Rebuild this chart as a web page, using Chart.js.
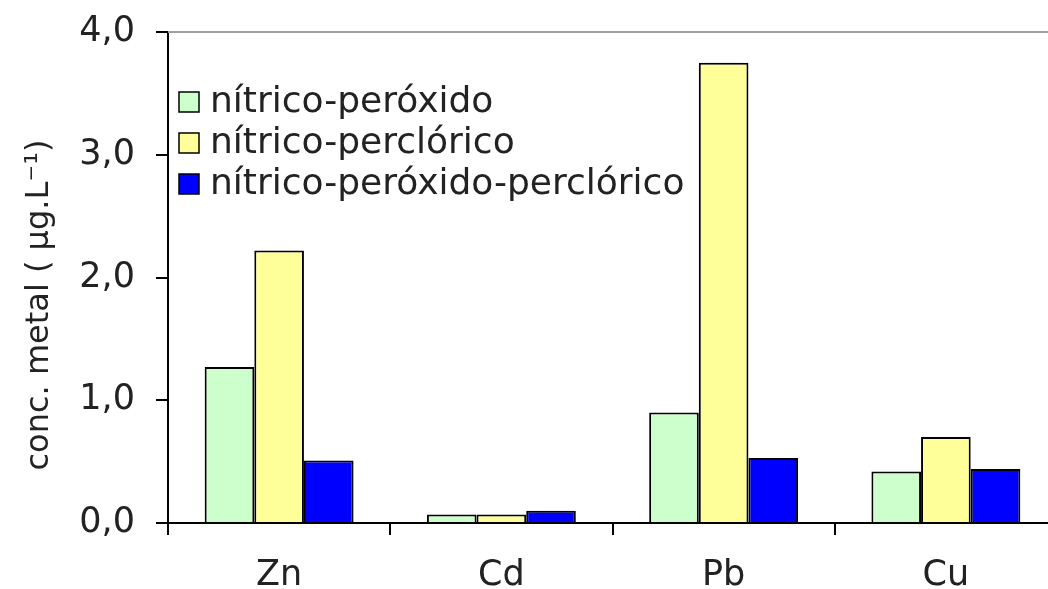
<!DOCTYPE html>
<html>
<head>
<meta charset="utf-8">
<script src="https://cdn.jsdelivr.net/npm/chart.js@4"></script>
<style>
    html, body { margin: 0; padding: 0; background: #fff; overflow: hidden; }
    #wrap { width: 1048px; height: 589px; overflow: hidden; }
    canvas { display: block; }
</style>
</head>
<body>
<div id="wrap">
    <canvas id="metalChart" width="1057" height="589"></canvas>
</div>
<script>
const categories = ["Zn", "Cd", "Pb", "Cu"];
const seriesLabels = [
    "nítrico-peróxido",
    "nítrico-perclórico",
    "nítrico-peróxido-perclórico",
];
const peroxido = [1.27, 0.07, 0.9, 0.42];
const perclorico = [2.22, 0.07, 3.75, 0.7];
const peroxidoPerclorico = [0.51, 0.1, 0.53, 0.44];
const yTicks = [0, 1, 2, 3, 4];
const yTitle = "conc. metal ( µg.L⁻¹)";

const colors = ["#ccffcc", "#ffff99", "#0000ff"];
const fontFamily = "'DejaVu Sans', Verdana, sans-serif";
const textColor = "#222";

// legend + axis title drawn inside the plot like the original
const overlayPlugin = {
    id: "overlay",
    afterDraw(chart) {
        const ctx = chart.ctx;
        const area = chart.chartArea;

        // grey top border of the plot area
        ctx.save();
        ctx.strokeStyle = "#a0a0a0";
        ctx.lineWidth = 2;
        ctx.beginPath();
        ctx.moveTo(area.left, area.top);
        ctx.lineTo(area.right, area.top);
        ctx.stroke();

        // legend
        ctx.font = "36px " + fontFamily;
        ctx.textBaseline = "middle";
        ctx.textAlign = "left";
        chart.data.datasets.forEach((ds, i) => {
            const cy = 102 + i * 41;
            ctx.fillStyle = ds.backgroundColor;
            ctx.fillRect(179, cy - 10, 20, 20);
            ctx.strokeStyle = "#000";
            ctx.lineWidth = 1.5;
            ctx.strokeRect(179, cy - 10, 20, 20);
            ctx.fillStyle = textColor;
            ctx.fillText(ds.label, 210, cy + 1);
        });

        // y axis title
        ctx.translate(48, 305);
        ctx.rotate(-Math.PI / 2);
        ctx.font = "32px " + fontFamily;
        ctx.textAlign = "center";
        ctx.textBaseline = "alphabetic";
        ctx.fillStyle = textColor;
        ctx.fillText(yTitle, 0, 0);
        ctx.restore();
    },
};

const datasets = [peroxido, perclorico, peroxidoPerclorico].map((values, i) => ({
    label: seriesLabels[i],
    data: values,
    backgroundColor: colors[i],
    borderColor: "#000",
    borderWidth: 2,
    categoryPercentage: 0.67,
    barPercentage: 1.0,
}));

new Chart(document.getElementById("metalChart"), {
    type: "bar",
    data: {
        labels: categories,
        datasets: datasets,
    },
    plugins: [overlayPlugin],
    options: {
        responsive: false,
        animation: false,
        layout: {
            padding: { top: 32, right: 0, bottom: 0, left: 0 },
        },
        plugins: {
            legend: { display: false },
            tooltip: { enabled: false },
        },
        scales: {
            x: {
                afterFit(scale) {
                    scale.height = 66;
                    scale.paddingLeft = 0;
                    scale.paddingRight = 0;
                },
                grid: {
                    offset: true,
                    drawOnChartArea: false,
                    tickLength: 12,
                    color: "#000",
                    lineWidth: 2,
                },
                border: { color: "#000", width: 2 },
                ticks: {
                    color: textColor,
                    padding: 20,
                    font: { family: fontFamily, size: 35 },
                },
            },
            y: {
                min: 0,
                max: 4,
                afterFit(scale) {
                    scale.width = 168;
                    scale.paddingTop = 0;
                    scale.paddingBottom = 0;
                },
                afterBuildTicks(scale) {
                    scale.ticks = yTicks.map((v) => ({ value: v }));
                },
                grid: {
                    drawOnChartArea: false,
                    tickLength: 12,
                    color: "#000",
                    lineWidth: 2,
                },
                border: { color: "#000", width: 2 },
                ticks: {
                    color: textColor,
                    padding: 21,
                    font: { family: fontFamily, size: 35 },
                    callback: function (value) {
                        return value.toFixed(1).replace(".", ",");
                    },
                },
            },
        },
    },
});
</script>
</body>
</html>
